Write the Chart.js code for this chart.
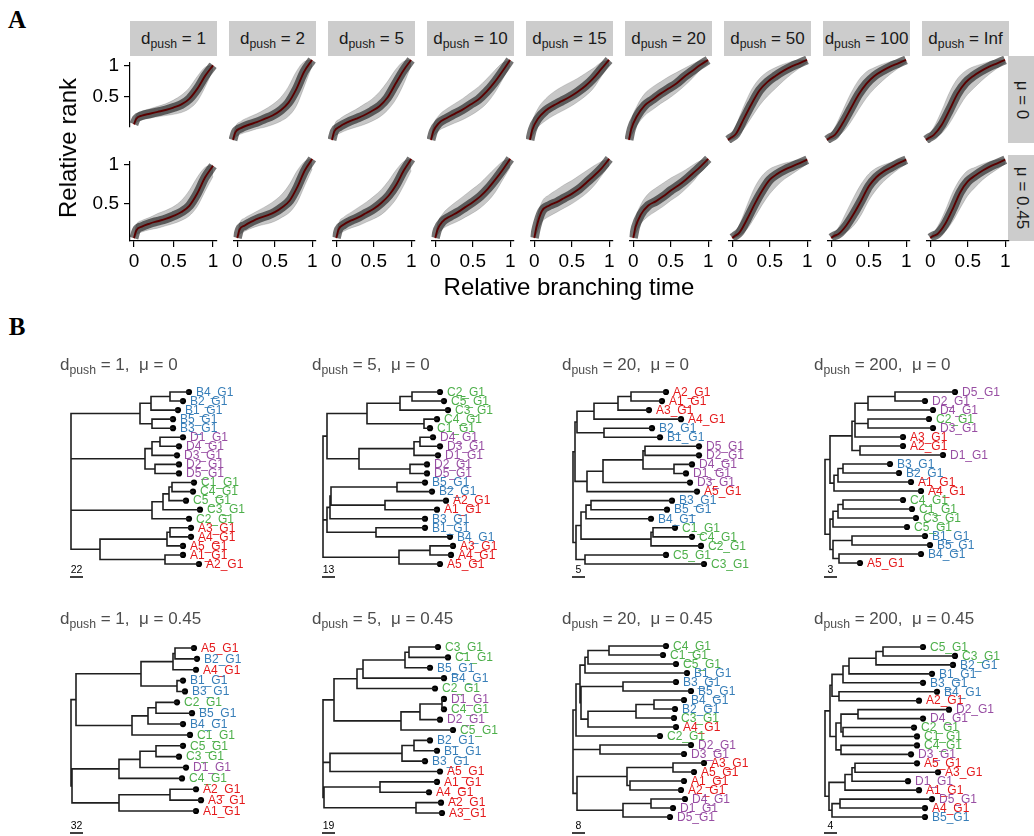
<!DOCTYPE html>
<html>
<head>
<meta charset="utf-8">
<title>push distance and tree shape</title>
<script src="https://cdn.jsdelivr.net/npm/chart.js@4.4.1/dist/chart.umd.min.js"></script>
<style>
  body { margin: 0; background: #fff; }
  #fig { position: relative; width: 1034px; height: 836px; overflow: hidden;
         font-family: "Liberation Sans", Arial, sans-serif; }
  #fig canvas { position: absolute; }
  .txt { position: absolute; white-space: nowrap; line-height: 1; }
  .letter { font-family: "Liberation Serif", "Times New Roman", serif; font-weight: bold; font-size: 25px; }
  .axt { font-size: 24px; color: #000; }
  .strip { position: absolute; background: #cccccc; color: #1a1a1a; font-size: 17px;
           display: flex; align-items: center; justify-content: center; overflow: hidden; }
  .strip span { white-space: nowrap; }
  .vtxt { font-size: 17px; color: #1a1a1a; }
  sub { font-size: 0.72em; vertical-align: -0.35em; line-height: 0; }
  .ttl { font-size: 17px; color: #4d4d4d; }
</style>
</head>
<body>
<div id="fig"></div>
<script>
// =============================
// PANEL A - relative rank vs relative branching time
// =============================
const panelXs = [0, 0.03, 0.1, 0.2, 0.3, 0.4, 0.5, 0.6, 0.7, 0.8, 0.9, 1];
const dpushLevels = ["1", "2", "5", "10", "15", "20", "50", "100", "Inf"];
const muLevels = ["0", "0.45"];
const xTickVals = [0, 0.5, 1];
const yTickVals = [0.5, 1];

// red mean curve, one row per d_push (mu = 0)
const meanMu0 = [
  [0.05, 0.14, 0.19, 0.22, 0.25, 0.28, 0.32, 0.37, 0.46, 0.62, 0.83, 1],
  [0.05, 0.14, 0.19, 0.23, 0.26, 0.30, 0.34, 0.40, 0.49, 0.65, 0.86, 1],
  [0.05, 0.15, 0.21, 0.26, 0.30, 0.34, 0.39, 0.45, 0.55, 0.71, 0.87, 1],
  [0.05, 0.15, 0.25, 0.31, 0.36, 0.41, 0.47, 0.53, 0.62, 0.73, 0.86, 1],
  [0.05, 0.17, 0.30, 0.40, 0.46, 0.51, 0.56, 0.62, 0.69, 0.78, 0.89, 1],
  [0.05, 0.18, 0.33, 0.46, 0.53, 0.60, 0.66, 0.72, 0.80, 0.87, 0.94, 1],
  [0.05, 0.07, 0.12, 0.30, 0.48, 0.64, 0.74, 0.81, 0.87, 0.92, 0.96, 1],
  [0.05, 0.07, 0.11, 0.25, 0.42, 0.59, 0.72, 0.81, 0.87, 0.92, 0.96, 1],
  [0.05, 0.07, 0.11, 0.23, 0.41, 0.60, 0.73, 0.81, 0.87, 0.92, 0.96, 1],
];
// lower / upper edge of the grey bundle (mu = 0)
const loMu0 = [
  [0.04, 0.08, 0.12, 0.15, 0.17, 0.19, 0.21, 0.24, 0.30, 0.42, 0.65, 0.93],
  [0.04, 0.08, 0.12, 0.15, 0.18, 0.20, 0.23, 0.27, 0.33, 0.45, 0.68, 0.93],
  [0.04, 0.09, 0.13, 0.17, 0.20, 0.23, 0.27, 0.32, 0.40, 0.52, 0.70, 0.93],
  [0.04, 0.09, 0.16, 0.21, 0.25, 0.29, 0.34, 0.40, 0.48, 0.60, 0.76, 0.93],
  [0.04, 0.10, 0.20, 0.28, 0.34, 0.39, 0.44, 0.50, 0.57, 0.66, 0.80, 0.94],
  [0.04, 0.10, 0.22, 0.34, 0.41, 0.48, 0.54, 0.61, 0.69, 0.78, 0.88, 0.96],
  [0.04, 0.05, 0.08, 0.18, 0.32, 0.46, 0.57, 0.66, 0.75, 0.83, 0.90, 0.97],
  [0.04, 0.05, 0.07, 0.14, 0.26, 0.41, 0.55, 0.66, 0.75, 0.83, 0.90, 0.97],
  [0.04, 0.05, 0.07, 0.13, 0.25, 0.41, 0.56, 0.66, 0.75, 0.83, 0.90, 0.97],
];
const hiMu0 = [
  [0.06, 0.20, 0.26, 0.30, 0.34, 0.38, 0.44, 0.52, 0.64, 0.82, 0.97, 1],
  [0.06, 0.20, 0.27, 0.32, 0.36, 0.41, 0.47, 0.55, 0.68, 0.86, 0.98, 1],
  [0.06, 0.22, 0.30, 0.36, 0.41, 0.47, 0.53, 0.62, 0.74, 0.88, 0.98, 1],
  [0.06, 0.22, 0.34, 0.42, 0.48, 0.54, 0.61, 0.68, 0.77, 0.87, 0.96, 1],
  [0.06, 0.25, 0.42, 0.54, 0.62, 0.68, 0.73, 0.78, 0.84, 0.90, 0.97, 1],
  [0.06, 0.27, 0.45, 0.60, 0.68, 0.74, 0.80, 0.85, 0.90, 0.95, 0.99, 1],
  [0.06, 0.10, 0.22, 0.45, 0.65, 0.78, 0.86, 0.91, 0.95, 0.98, 1, 1],
  [0.06, 0.10, 0.20, 0.40, 0.60, 0.76, 0.86, 0.91, 0.95, 0.98, 1, 1],
  [0.06, 0.10, 0.20, 0.40, 0.62, 0.78, 0.87, 0.92, 0.95, 0.98, 1, 1],
];

// mu = 0.45
const meanMu045 = [
  [0.05, 0.15, 0.20, 0.24, 0.27, 0.30, 0.34, 0.39, 0.47, 0.63, 0.84, 0.99],
  [0.05, 0.15, 0.20, 0.25, 0.29, 0.32, 0.36, 0.42, 0.50, 0.66, 0.86, 1],
  [0.05, 0.15, 0.21, 0.26, 0.30, 0.35, 0.40, 0.47, 0.56, 0.69, 0.86, 1],
  [0.05, 0.15, 0.25, 0.31, 0.36, 0.42, 0.48, 0.55, 0.64, 0.75, 0.87, 1],
  [0.05, 0.18, 0.37, 0.44, 0.48, 0.53, 0.58, 0.64, 0.72, 0.80, 0.89, 1],
  [0.05, 0.18, 0.33, 0.44, 0.49, 0.55, 0.62, 0.68, 0.75, 0.83, 0.91, 1],
  [0.05, 0.07, 0.12, 0.28, 0.46, 0.62, 0.75, 0.82, 0.87, 0.91, 0.95, 0.99],
  [0.05, 0.07, 0.10, 0.20, 0.34, 0.50, 0.67, 0.78, 0.85, 0.90, 0.95, 0.99],
  [0.05, 0.07, 0.10, 0.22, 0.40, 0.60, 0.73, 0.80, 0.86, 0.91, 0.95, 0.99],
];
const loMu045 = [
  [0.04, 0.09, 0.13, 0.16, 0.18, 0.21, 0.24, 0.28, 0.34, 0.46, 0.66, 0.85],
  [0.04, 0.09, 0.13, 0.17, 0.20, 0.22, 0.25, 0.30, 0.36, 0.48, 0.68, 0.88],
  [0.04, 0.09, 0.13, 0.17, 0.20, 0.24, 0.28, 0.33, 0.41, 0.52, 0.68, 0.86],
  [0.04, 0.09, 0.16, 0.21, 0.25, 0.30, 0.35, 0.41, 0.49, 0.60, 0.75, 0.90],
  [0.04, 0.10, 0.24, 0.31, 0.36, 0.41, 0.46, 0.52, 0.59, 0.68, 0.80, 0.92],
  [0.04, 0.10, 0.22, 0.31, 0.37, 0.43, 0.50, 0.56, 0.64, 0.73, 0.84, 0.93],
  [0.04, 0.05, 0.08, 0.16, 0.30, 0.45, 0.58, 0.68, 0.76, 0.82, 0.88, 0.94],
  [0.04, 0.05, 0.07, 0.12, 0.20, 0.33, 0.50, 0.63, 0.73, 0.81, 0.88, 0.94],
  [0.04, 0.05, 0.07, 0.13, 0.25, 0.41, 0.56, 0.66, 0.75, 0.82, 0.88, 0.94],
];
const hiMu045 = [
  [0.06, 0.22, 0.28, 0.32, 0.37, 0.41, 0.46, 0.54, 0.67, 0.84, 0.97, 1],
  [0.06, 0.22, 0.29, 0.34, 0.39, 0.44, 0.50, 0.58, 0.70, 0.86, 0.97, 1],
  [0.06, 0.22, 0.30, 0.36, 0.42, 0.48, 0.55, 0.63, 0.74, 0.87, 0.97, 1],
  [0.06, 0.22, 0.34, 0.43, 0.50, 0.57, 0.64, 0.71, 0.80, 0.89, 0.97, 1],
  [0.06, 0.26, 0.48, 0.57, 0.63, 0.69, 0.74, 0.80, 0.86, 0.92, 0.97, 1],
  [0.06, 0.27, 0.45, 0.58, 0.65, 0.71, 0.77, 0.82, 0.87, 0.93, 0.98, 1],
  [0.06, 0.10, 0.22, 0.45, 0.66, 0.80, 0.88, 0.92, 0.95, 0.97, 0.99, 1],
  [0.06, 0.10, 0.18, 0.36, 0.54, 0.70, 0.82, 0.89, 0.93, 0.96, 0.99, 1],
  [0.06, 0.10, 0.19, 0.38, 0.60, 0.76, 0.86, 0.90, 0.94, 0.97, 0.99, 1],
];

// =============================
// PANEL B - example trees
// Newick-like strings, number after ':' = node depth from the root
// =============================
const treeDpush = ["1", "5", "20", "200"];
const treeMu = ["0", "0.45"];
const treeScaleLabels = ["22", "13", "5", "3", "32", "19", "8", "4"];
const tipSuffix = "_G1";
const treeNewick = [
  // d = 1, mu = 0
  "(" +
    "(((B4:118,B2:112):99,B1:107):80,(B5:102,B3:102):81):69," +
    "(((D1:112,D4:108):89,D3:106):81,(D2:108,D5:108):84):74," +
    "((((C1:123,C4:122):101,C5:115):98,C3:129):92,C2:118):81," +
    "(((A3:120,A4:120):99,A5:112):96,(A1:112,A2:128):94):29" +
  ")",
  // d = 5, mu = 0
  "(" +
    "((((C2:117,C5:121):89,C3:125):77,(C4:114,C1:107):101):44,(((D4:110,D3:117):97,D1:115):91,(D2:104,D5:104):87):36):4," +
    "((((B5:102,B2:109):74,(A2:123,A1:114):62):8,B3:102):7,(B1:102,B4:127):53):4," +
    "((A3:130,A4:128):107,A5:117):76" +
  ")",
  // d = 20, mu = 0
  "((" +
    "((((A2:93,A1:89):58,A3:76):45,A4:108):21,(B2:79,B1:87):31):4," +
    "((((D5:126,D2:126):72,(D4:119,D1:113):101):70,D3:117):30,A5:124):14" +
  "):2," +
    "((((B3:99,B5:94):18,B4:78):13,((C1:102,C4:119):80,C2:128):78):8,(C5:93,C3:131):12):3" +
  ")",
  // d = 200, mu = 0
  "((" +
    "((((D5:130,D2:100):70,D4:108):43,(C2:104,D3:108):43,A3:78):30,(A2:78,D1:118):35):27," +
    "(((B3:65,B2:74):18,A1:86):13,A4:96):9" +
  "):5,(" +
    "(((C4:78,C1:87):18,C3:91):13,C5:82):8," +
    "((B1:100,B5:105):27,(B4:96,A5:35):14):8" +
  "):5)",
  // d = 1, mu = 0.45
  "(" +
    "((((A5:123,B2:126):104,A4:125):102,(B1:112,B3:114):106):70,(((C2:106,B5:121):85,B4:112):77,C1:119):61):5," +
    "((((C5:112,C3:108):85,D1:115):69,C4:111):48,((A2:125,A3:130):99,A1:125):48):1" +
  ")",
  // d = 5, mu = 0.45
  "(" +
    "(((((C3:115,C1:125):86,B5:107):82,B4:121):40,C2:112):34,(((D1:121,C4:121):119,D2:117):97,C5:130):78):11," +
    "(((B2:107,B1:114):91,B3:102):79,A5:117):7," +
    "((A1:114,A4:106):57,(A2:118,A3:119):93):1" +
  ")",
  // d = 20, mu = 0.45
  "(((" +
    "(((C4:93,C1:90):36,C5:103):15,B1:114):12," +
    "((B3:103,B5:118):50,(((B4:111,B2:102):81,C3:101):63,A4:103):15):8" +
  "):7,C2:87):3," +
    "(D2:118,D3:111):27," +
    "(((A3:131,A5:121):100,(A1:111,A2:108):57):54,((D4:112,D1:100):78,D5:97):50):4" +
  ")",
  // d = 200, mu = 0.45
  "((" +
    "(((((C5:98,C3:130):58,B2:128):51,B1:107):24,B3:98):18,(B4:112,A2:94):14):7," +
    "(((D2:124,D4:98):33,(C2:89,C1:92):18):16,(C4:92,D3:86):16):11" +
  "):5," +
    "((((A5:92,A3:113):30,D1:83):27,A1:94):20,((D5:107,A4:100):15,B5:100):7):4" +
  ")",
];
const groupColours = { A: "#E41A1C", B: "#377EB8", C: "#4DAF4A", D: "#984EA3" };

// layout of the tree slots (pixels)
const treeRootX = [71, 323, 573, 825];
const treeTipSpan = [
  [392, 564], [392, 564], [392, 564], [392, 563],
  [648, 811], [647, 813], [646, 817], [647, 817],
];

Chart.defaults.font.family = '"Liberation Sans", Arial, sans-serif';
const fig = document.getElementById("fig");

function addText(html, cls, x, y, anchor, extra) {
  const el = document.createElement("div");
  el.className = "txt " + cls;
  el.innerHTML = html;
  el.style.left = x + "px";
  el.style.top = y + "px";
  el.style.transform = anchor === "left" ? "translate(0,-50%)" : "translate(-50%,-50%)";
  if (extra) el.style.transform += " " + extra;
  fig.appendChild(el);
  return el;
}

function makeCanvas(left, top, w, h) {
  const c = document.createElement("canvas");
  c.width = w;
  c.height = h;
  c.style.left = left + "px";
  c.style.top = top + "px";
  c.style.width = w + "px";
  c.style.height = h + "px";
  fig.appendChild(c);
  return c;
}

// ---------------------
// one small facet of panel A
// ---------------------
function drawRankPanel(r, c) {
  const mean = r === 0 ? meanMu0[c] : meanMu045[c];
  const lo = r === 0 ? loMu0[c] : loMu045[c];
  const hi = r === 0 ? hiMu0[c] : hiMu045[c];

  const plotL = 130 + c * 99;
  const plotT = r === 0 ? 56 : 155;
  const plotW = 87;
  const plotH = r === 0 ? 87 : 86;
  const showY = c === 0;
  const showX = r === 1;
  const axisW = showY ? 50 : 0;
  const axisH = showX ? 34 : 0;
  const padT = 10, padR = 8;
  const canvas = makeCanvas(plotL - axisW, plotT - padT, axisW + plotW + padR, padT + plotH + axisH);

  const pts = (ys) => panelXs.map((x, i) => ({ x, y: ys[i] }));
  const axisLine = { display: true, color: "#000", width: 1.2 };
  const tickGrid = { display: true, drawOnChartArea: false, drawTicks: true, tickLength: 6, color: "#000", lineWidth: 1.2 };

  new Chart(canvas, {
    type: "line",
    data: {
      datasets: [
        { data: pts(lo), borderColor: "rgba(0,0,0,0.14)", borderWidth: 1, pointRadius: 0, fill: false },
        { data: pts(hi), borderColor: "rgba(0,0,0,0.14)", borderWidth: 1, pointRadius: 0,
          fill: "-1", backgroundColor: "rgba(0,0,0,0.22)" },
        { data: pts(mean), borderColor: "rgba(0,0,0,0.55)", borderWidth: 9, pointRadius: 0, fill: false },
        { data: pts(mean), borderColor: "#ff0000", borderWidth: 1.9, pointRadius: 0, fill: false },
      ],
    },
    options: {
      responsive: false,
      animation: false,
      events: [],
      layout: { autoPadding: false, padding: { top: padT, right: padR, left: 0, bottom: 0 } },
      plugins: { legend: { display: false }, tooltip: { enabled: false } },
      elements: { line: { cubicInterpolationMode: "monotone" } },
      scales: {
        x: {
          type: "linear", min: -0.05, max: 1.05, display: showX,
          afterBuildTicks: (s) => { s.ticks = xTickVals.map((v) => ({ value: v })); },
          afterFit: (s) => { s.height = axisH; },
          grid: tickGrid, border: axisLine,
          ticks: { color: "#000", font: { size: 19 }, padding: 3, maxRotation: 0, autoSkip: false,
                   callback: (v) => String(v) },
        },
        y: {
          type: "linear", min: 0.013, max: 1.047, display: showY,
          afterBuildTicks: (s) => { s.ticks = yTickVals.map((v) => ({ value: v })); },
          afterFit: (s) => { s.width = axisW; },
          grid: tickGrid, border: axisLine,
          ticks: { color: "#000", font: { size: 19 }, padding: 5, autoSkip: false,
                   callback: (v) => String(v) },
        },
      },
    },
  });
}

// ---------------------
// trees
// ---------------------
function parseTree(s) {
  let i = 0;
  function readNode() {
    const node = { name: "", depth: 0, children: [] };
    if (s[i] === "(") {
      i++;
      node.children.push(readNode());
      while (s[i] === ",") { i++; node.children.push(readNode()); }
      i++; // ')'
    } else {
      const j = i;
      while (i < s.length && !":,()".includes(s[i])) i++;
      node.name = s.slice(j, i);
    }
    if (s[i] === ":") {
      i++;
      const j = i;
      while (i < s.length && !",()".includes(s[i])) i++;
      node.depth = parseFloat(s.slice(j, i));
    }
    return node;
  }
  return readNode();
}

const tipLabelPlugin = {
  id: "tipLabels",
  afterDatasetsDraw(chart, args, opts) {
    const { ctx } = chart;
    const xs = chart.scales.x, ys = chart.scales.y;
    ctx.save();
    ctx.font = '12px "Liberation Sans", Arial, sans-serif';
    ctx.textBaseline = "middle";
    ctx.textAlign = "left";
    opts.tips.forEach((t) => {
      ctx.fillStyle = groupColours[t.name[0]];
      ctx.fillText(t.name + tipSuffix, xs.getPixelForValue(t.depth) + 7, ys.getPixelForValue(t.y) + 0.5);
    });
    // scale bar
    const x0 = xs.getPixelForValue(-1), x1 = xs.getPixelForValue(12);
    ctx.strokeStyle = "#000";
    ctx.lineWidth = 1.5;
    ctx.beginPath();
    ctx.moveTo(x0, opts.barY);
    ctx.lineTo(x1, opts.barY);
    ctx.stroke();
    ctx.fillStyle = "#000";
    ctx.font = '10.5px "Liberation Sans", Arial, sans-serif';
    ctx.textAlign = "center";
    ctx.fillText(opts.barLabel, (x0 + x1) / 2, opts.barY - 6.5);
    ctx.restore();
  },
};

function drawTree(k) {
  const row = k < 4 ? 0 : 1;
  const col = k % 4;
  const root = parseTree(treeNewick[k]);

  const tips = [];
  (function place(n) {
    if (!n.children.length) { n.y = tips.length; tips.push(n); return; }
    n.children.forEach(place);
    n.y = n.children.reduce((a, ch) => a + ch.y, 0) / n.children.length;
  })(root);

  const edges = [];
  (function link(n, parentDepth) {
    if (parentDepth !== null) {
      edges.push({ x: parentDepth, y: n.y }, { x: n.depth, y: n.y }, { x: null, y: null });
    }
    if (n.children.length) {
      const cy = n.children.map((ch) => ch.y);
      edges.push({ x: n.depth, y: Math.min(...cy) }, { x: n.depth, y: Math.max(...cy) }, { x: null, y: null });
      n.children.forEach((ch) => link(ch, n.depth));
    }
  })(root, null);

  const top = row === 0 ? 368 : 622;
  const height = row === 0 ? 216 : 214;
  const width = 240;
  const rootX = treeRootX[col];
  const [y0, yN] = treeTipSpan[k];
  const step = (yN - y0) / (tips.length - 1);
  const yMin = -(y0 - top) / step;

  const canvas = makeCanvas(rootX - 12, top, width, height);
  new Chart(canvas, {
    type: "line",
    data: {
      datasets: [
        { data: edges, borderColor: "#1f1f1f", borderWidth: 1.6, borderCapStyle: "square",
          pointRadius: 0, fill: false, tension: 0 },
        { data: tips.map((t) => ({ x: t.depth, y: t.y })), showLine: false,
          pointRadius: 3.1, pointBackgroundColor: "#000", pointBorderWidth: 0 },
      ],
    },
    options: {
      responsive: false,
      animation: false,
      events: [],
      layout: { autoPadding: false, padding: 0 },
      plugins: {
        legend: { display: false },
        tooltip: { enabled: false },
        tipLabels: { tips, barLabel: treeScaleLabels[k], barY: row === 0 ? 577 - top : 833 - top },
      },
      scales: {
        x: { type: "linear", min: -12, max: width - 12, display: false },
        y: { type: "linear", reverse: true, min: yMin, max: yMin + height / step, display: false },
      },
    },
    plugins: [tipLabelPlugin],
  });

  const title = "d<sub>push</sub> = " + treeDpush[col] + ",&nbsp; &mu; = " + treeMu[row];
  addText(title, "ttl", rootX - 11, row === 0 ? 364 : 618, "left");
}

// ---------------------
// build the figure
// ---------------------
addText("A", "letter", 17, 19);
addText("B", "letter", 17, 326);

dpushLevels.forEach((d, c) => {
  const s = document.createElement("div");
  s.className = "strip";
  s.style.left = 130 + c * 99 + "px";
  s.style.top = "21px";
  s.style.width = "87px";
  s.style.height = "35px";
  s.innerHTML = "<span>d<sub>push</sub> = " + d + "</span>";
  fig.appendChild(s);
});
muLevels.forEach((m, r) => {
  const top = r === 0 ? 56 : 155;
  const h = r === 0 ? 87 : 86;
  const s = document.createElement("div");
  s.className = "strip";
  s.style.left = "1008px";
  s.style.top = top + "px";
  s.style.width = "30px";
  s.style.height = h + "px";
  fig.appendChild(s);
  addText("&mu; = " + m, "vtxt", 1022, top + h / 2, "center", "rotate(90deg)");
});

for (let r = 0; r < 2; r++) {
  for (let c = 0; c < 9; c++) drawRankPanel(r, c);
}
addText("Relative rank", "axt", 68, 148, "center", "rotate(-90deg)");
addText("Relative branching time", "axt", 569, 287, "center");

for (let k = 0; k < 8; k++) drawTree(k);
</script>
</body>
</html>
